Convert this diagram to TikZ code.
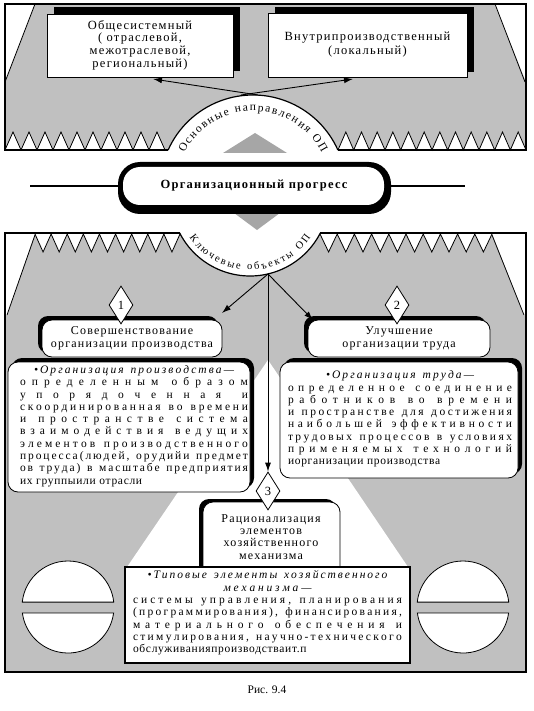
\documentclass[tikz,border=0pt]{standalone}
\usepackage{fontspec}
\setmainfont{Liberation Serif}
\newfontfamily\lsfont[LetterSpace=10]{Liberation Serif}
\newfontfamily\lsbody[LetterSpace=6]{Liberation Serif}
\usetikzlibrary{decorations.text,arrows.meta,shapes.geometric}
\definecolor{pgray}{RGB}{192,192,192}
\definecolor{tgray}{RGB}{166,166,166}
\def\sprdend{}
\def\sprdL#1#2{#1\ifx\relax#2\else\hskip0pt plus 1fil\relax\expandafter\sprdL\expandafter#2\fi}
\def\sprdW#1 #2\sprdend{\sprdL#1\relax\ifx\relax#2\relax\else\space\hskip0pt plus 1.6fil\relax\sprdW#2\sprdend\fi}
\newcommand\JL[2]{\makebox[#1][s]{\sprdW#2 \sprdend}}
\newcommand\CL[3]{\makebox[#1][c]{\itshape\makebox[#2][s]{\sprdW#3 \sprdend}}}
\begin{document}
\begin{tikzpicture}[x=1pt,y=-1pt,
  bord/.style={line width=1.8pt},
  thinl/.style={line width=0.8pt},
  arr/.style={line width=0.9pt,-{Latex[length=9pt,width=6pt]}},
  numd/.style={shape=diamond,draw,fill=white,line width=0.8pt,inner sep=0pt,minimum width=24pt,minimum height=38pt,font=\fontsize{12.5}{12.5}\selectfont},
  shad/.style={fill=black},
  wbox/.style={draw,fill=white,line width=0.8pt},
  bodytext/.style={font=\lsbody\fontsize{11.5}{12.3}\selectfont,align=left,inner sep=0pt},
  boxtext/.style={font=\lsfont\fontsize{12}{13.5}\selectfont,align=center},
  arctext/.style 2 args={decorate,decoration={text along path,text align={fit to path},text={|\fontsize{#1}{#1}\selectfont|#2}}},
]
\fill[white] (0,0) rectangle (534,711);
\useasboundingbox (0,0) rectangle (534,711);

% ================= top panel
\fill[pgray] (5,4) rectangle (526,150);
\fill[white] (5,4) -- (35,4) -- (5,82) -- cycle;
\fill[white] (495,4) -- (526,4) -- (526,82) -- cycle;
\draw[thinl] (35,4) -- (5,82);
\draw[thinl] (495,4) -- (525,82);
\draw[thinl,fill=white] (5,150) \foreach \i in {0,...,9} { -- ({13+16*\i},132) -- ({21+16*\i},150) };
\draw[thinl,fill=white] (338,150) \foreach \i in {0,...,11} { -- ({345.83+15.667*\i},132) -- ({353.67+15.667*\i},150) };
% arc segment
\draw[line width=1.2pt,fill=white] ([shift={(204.1:93)}]253,188) arc[start angle=204.1,end angle=335.9,radius=93];
\path[arctext={11.5}{Основные направления ОП}] ([shift={(207:77)}]253,188) arc[start angle=207,end angle=333,radius=77];
\draw[bord] (168,150) -- (5,150) -- (5,4) -- (526,4) -- (526,150) -- (338,150);

% top boxes
\fill[shad] (54,7) rectangle (240,71);
\draw[wbox] (47,14) rectangle (233,77);
\node[font=\lsfont\fontsize{12.5}{12.6}\selectfont,align=center] (gen) at (140,45) {Общесистемный\\( отраслевой,\\межотраслевой,\\региональный)};
\fill[shad] (275,7) rectangle (474,72);
\draw[wbox] (268,13) rectangle (467,77);
\node[font=\lsfont\fontsize{12.5}{14}\selectfont,align=center] (loc) at (367.5,45) {Внутрипроизводственный\\(локальный)};
\coordinate (sA) at (258,95);
\coordinate (sB) at (241,95);
\coordinate (genin) at (153,79);
\coordinate (locin) at (353,79);
\draw[arr] (sA) -- (genin);
\draw[arr] (sB) -- (locin);

% ================= centre
\fill[tgray] (255,133) -- (287,153) -- (223,153) -- cycle;
\fill[tgray] (226,207) -- (288,207) -- (257,230) -- cycle;
\fill[black,rounded corners=22pt] (118,162) rectangle (391,214);
\fill[white,rounded corners=17pt] (123,167) rectangle (384,205);
\node[font=\lsfont\bfseries\fontsize{12.5}{13}\selectfont] (prog) at (254,186) {Организационный прогресс};
\coordinate (hl1) at (30,186);
\coordinate (hl2) at (118,186);
\coordinate (hr1) at (391,186);
\coordinate (hr2) at (465,186);
\draw[line width=1.3pt] (hl1) -- (hl2);
\draw[line width=1.3pt] (hr1) -- (hr2);

% ================= bottom panel
\fill[pgray] (5,233) rectangle (526,672);
\fill[white] (5,233) -- (35,233) -- (7,315) -- (5,315) -- cycle;
\draw[thinl] (35,235) -- (7,315);
\fill[white] (526,233) -- (492,233) -- (524,315) -- (526,315) -- cycle;
\draw[thinl] (492,235) -- (524,315);
\draw[thinl,fill=white] (35,234) \foreach \i in {0,...,8} { -- ({43.06+16.11*\i},252) -- ({51.11+16.11*\i},234) };
\draw[thinl,fill=white] (320,234) \foreach \i in {0,...,9} { -- ({328.6+17.2*\i},252) -- ({337.2+17.2*\i},234) };
% light wedge
\fill[white] (268,360) -- (410,570) -- (125,570) -- cycle;
% key objects segment
\draw[line width=1.2pt,fill=white] ([shift={(152.9:79)}]250,197) arc[start angle=152.9,end angle=27.1,radius=79];
\path[arctext={10.5}{Ключевые объекты ОП}] ([shift={(146:73)}]250,197) arc[start angle=146,end angle=34,radius=73];
\draw[bord] (180,233) -- (5,233) -- (5,672) -- (526,672) -- (526,233) -- (320,233);

% half discs
\foreach \cx in {68,463}{
  \draw[thinl,fill=white] ([shift={(186.1:46)}]\cx,607) arc[start angle=186.1,end angle=353.9,radius=46] -- cycle;
  \draw[thinl,fill=white] ([shift={(7.5:46)}]\cx,607) arc[start angle=7.5,end angle=172.5,radius=46] -- cycle;
}

% boxes 1 and 2
\fill[shad,rounded corners=10pt] (38,316) rectangle (218,353);
\draw[wbox,rounded corners=10pt] (42,320) rectangle (222,357);
\node[boxtext] (b1) at (132,338.5) {Совершенствование\\организации производства};
\fill[shad,rounded corners=10pt] (304,316) rectangle (486,353);
\draw[wbox,rounded corners=10pt] (308,320) rectangle (490,357);
\node[boxtext] (b2) at (399,338.5) {Улучшение\\организации труда};

% big text boxes
\fill[shad,rounded corners=10pt] (12,358) rectangle (254,488);
\draw[wbox,rounded corners=10pt] (8,362) rectangle (250,492);
\node[bodytext] (t1) at (134,426) {%
\CL{228pt}{200pt}{•Организация производства—}\\
\JL{228pt}{определенным образом}\\
\JL{228pt}{упорядоченная и}\\
\JL{228pt}{скоординированная во времени}\\
\JL{228pt}{и пространстве система}\\
\JL{228pt}{взаимодействия ведущих}\\
\JL{228pt}{элементов производственного}\\
\JL{228pt}{процесса(людей, орудийи предмет}\\
\JL{228pt}{ов труда) в масштабе предприятия}\\
их группыили отрасли};
\fill[shad,rounded corners=10pt] (284,358) rectangle (522,474);
\draw[wbox,rounded corners=10pt] (280,362) rectangle (518,478);
\node[bodytext] (t2) at (400,419) {%
\CL{224pt}{148pt}{•Организация труда—}\\
\JL{224pt}{определенное соединение}\\
\JL{224pt}{работников во времени}\\
\JL{224pt}{и пространстве для достижения}\\
\JL{224pt}{наибольшей эффективности}\\
\JL{224pt}{трудовых процессов в условиях}\\
\JL{224pt}{применяемых технологий}\\
иорганизации производства};

% connectors from key objects
\coordinate (ko) at (268,274);
\coordinate (b1in) at (222,313);
\coordinate (b2in) at (313,320);

% box 3
\fill[shad,rounded corners=10pt] (199,499) rectangle (336,590);
\draw[wbox,rounded corners=10pt] (203,502) rectangle (340,592);
\node[font=\lsfont\fontsize{12}{12.2}\selectfont,align=center] (b3) at (271,537) {Рационализация\\элементов\\хозяйственного\\механизма};

% diamonds
\node[numd] (d1) at (121,305) {1};
\node[numd] (d2) at (397,305) {2};
\node[numd] (d3) at (268,491) {3};
\draw[arr] (ko) -- (b1in);
\draw[arr] (ko) -- (b2in);
\draw[arr] (ko) -- (d3.north);

% bottom box
\draw[line width=2.5pt,fill=white] (125,567) rectangle (410,663);
\node[bodytext] (t3) at (267.5,613) {%
\CL{269pt}{240pt}{•Типовые элементы хозяйственного}\\
\CL{269pt}{88pt}{механизма—}\\
\JL{269pt}{системы управления, планирования}\\
\JL{269pt}{(программирования), финансирования,}\\
\JL{269pt}{материального обеспечения и}\\
\JL{269pt}{стимулирования, научно-технического}\\
обслуживанияпроизводстваит.п};

\node[font=\fontsize{11.5}{11.5}\selectfont] (cap) at (267,690) {Рис. 9.4};
\end{tikzpicture}
\end{document}
